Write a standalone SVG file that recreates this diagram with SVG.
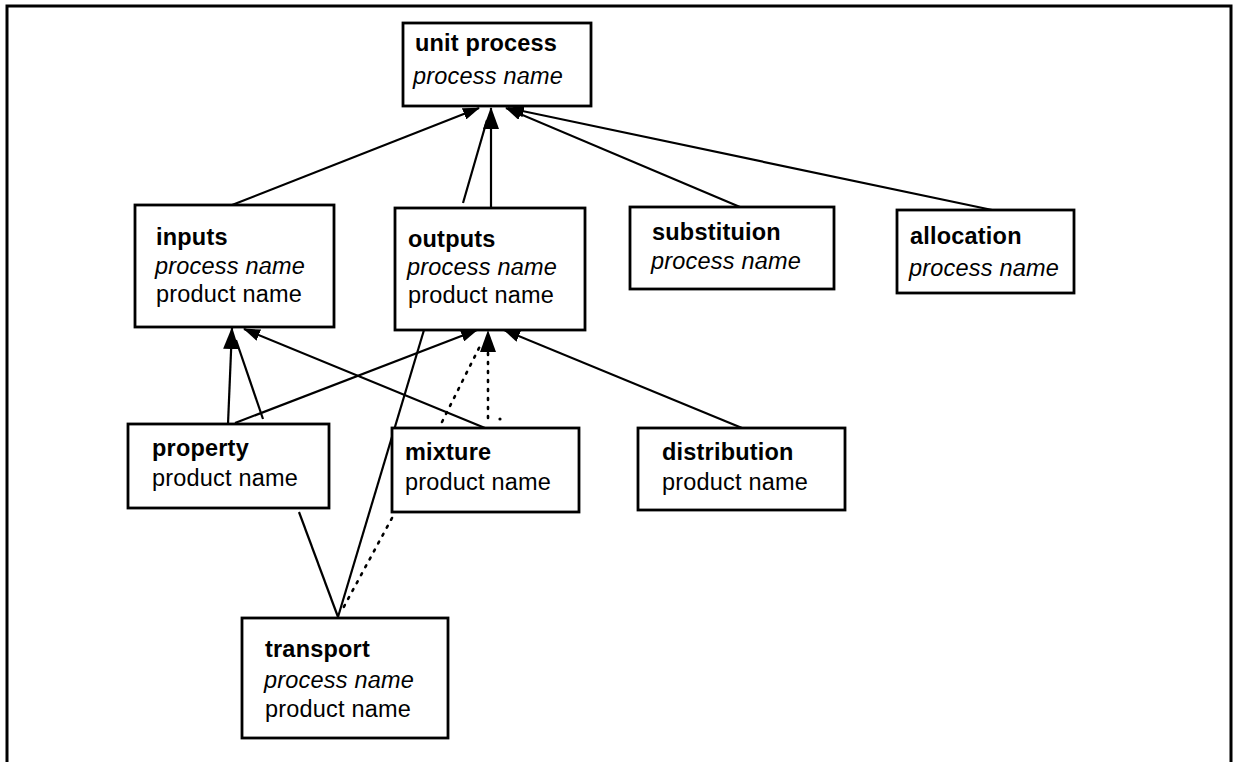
<svg xmlns="http://www.w3.org/2000/svg" width="1234" height="762" viewBox="0 0 1234 762">
<style>
  .box { fill: #fff; stroke: #000; stroke-width: 2.8; }
  .t { font-family: "Liberation Sans", Arial, sans-serif; font-size: 23.5px; letter-spacing: 0.2px; fill: #000; }
  .b { font-weight: bold; }
  .i { font-style: italic; }
  .c { stroke: #000; stroke-width: 2.2; fill: none; }
  .d { stroke: #000; stroke-width: 2.6; fill: none; stroke-dasharray: 2 7; stroke-linecap: round; }
</style>
<defs>
  <marker id="arr" markerUnits="userSpaceOnUse" markerWidth="17" markerHeight="12" refX="16" refY="6" orient="auto">
    <path d="M0,0 L17,6 L0,12 z" fill="#000"/>
  </marker>
  <marker id="arrBig" markerUnits="userSpaceOnUse" markerWidth="22" markerHeight="16" refX="21" refY="8" orient="auto">
    <path d="M0,0 L22,8 L0,16 z" fill="#000"/>
  </marker>
</defs>
<rect width="1234" height="762" fill="#fff"/>
<path d="M7,762 V6 H1231 V762" fill="none" stroke="#000" stroke-width="3"/>

<g id="connectors">
  <line class="c" x1="232" y1="205" x2="479" y2="108" marker-end="url(#arr)"/>
  <line class="c" x1="463" y1="203" x2="487" y2="120"/>
  <line class="c" x1="491" y1="208" x2="491" y2="108" marker-end="url(#arrBig)"/>
  <line class="c" x1="740" y1="207" x2="506" y2="108" marker-end="url(#arr)"/>
  <line class="c" x1="997" y1="211" x2="508" y2="108" marker-end="url(#arr)"/>
  <line class="c" x1="228" y1="424" x2="232" y2="328" marker-end="url(#arrBig)"/>
  <line class="c" x1="263" y1="419" x2="236" y2="340"/>
  <line class="c" x1="235" y1="423" x2="477" y2="330" marker-end="url(#arr)"/>
  <line class="c" x1="485" y1="428" x2="244" y2="329" marker-end="url(#arr)"/>
  <line class="d" x1="442" y1="422" x2="480" y2="346"/>
  <line class="d" x1="488" y1="418" x2="488" y2="352"/>
  <path d="M488,330 L496,352 L480,352 z" fill="#000"/>
  <circle cx="500" cy="419" r="1.6" fill="#000"/>
  <line class="c" x1="742" y1="428" x2="504" y2="330" marker-end="url(#arr)"/>
  <line class="c" x1="424" y1="330" x2="338" y2="617"/>
  <line class="c" x1="299" y1="512" x2="338" y2="617"/>
  <line class="d" x1="392" y1="518" x2="341" y2="612"/>
</g>

<g id="unit-process">
  <rect class="box" x="403" y="23" width="188" height="83"/>
  <text class="t b" x="415" y="51">unit process</text>
  <text class="t i" x="413" y="84">process name</text>
</g>
<g id="inputs">
  <rect class="box" x="135" y="205" width="199" height="122"/>
  <text class="t b" x="156" y="245">inputs</text>
  <text class="t i" x="155" y="274">process name</text>
  <text class="t" x="156" y="302">product name</text>
</g>
<g id="outputs">
  <rect class="box" x="395" y="208" width="190" height="122"/>
  <text class="t b" x="408" y="247">outputs</text>
  <text class="t i" x="407" y="275">process name</text>
  <text class="t" x="408" y="303">product name</text>
</g>
<g id="substitution">
  <rect class="box" x="630" y="207" width="204" height="82"/>
  <text class="t b" x="652" y="240">substituion</text>
  <text class="t i" x="651" y="269">process name</text>
</g>
<g id="allocation">
  <rect class="box" x="897" y="210" width="177" height="83"/>
  <text class="t b" x="910" y="244">allocation</text>
  <text class="t i" x="909" y="276">process name</text>
</g>
<g id="property">
  <rect class="box" x="128" y="424" width="201" height="84"/>
  <text class="t b" x="152" y="456">property</text>
  <text class="t" x="152" y="486">product name</text>
</g>
<g id="mixture">
  <rect class="box" x="392" y="428" width="187" height="84"/>
  <text class="t b" x="405" y="460">mixture</text>
  <text class="t" x="405" y="490">product name</text>
</g>
<g id="distribution">
  <rect class="box" x="638" y="428" width="207" height="82"/>
  <text class="t b" x="662" y="460">distribution</text>
  <text class="t" x="662" y="490">product name</text>
</g>
<g id="transport">
  <rect class="box" x="242" y="618" width="206" height="120"/>
  <text class="t b" x="265" y="657">transport</text>
  <text class="t i" x="264" y="688">process name</text>
  <text class="t" x="265" y="717">product name</text>
</g>
</svg>
